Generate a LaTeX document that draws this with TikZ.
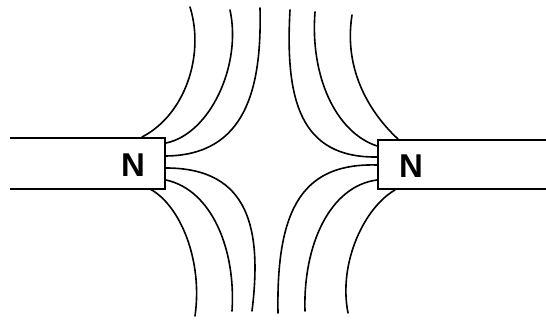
\documentclass[tikz,border=0pt]{standalone}
\usepackage{fontspec}
\setmainfont{Liberation Sans}
\begin{document}
\begin{tikzpicture}[x=1pt,y=-1pt,
  magnet/.style={line width=2.4pt,line join=miter},
  fieldline/.style={line width=1.6pt,line cap=round},
  pole/.style={font=\bfseries\fontsize{33}{33}\selectfont,inner sep=0pt}]
\useasboundingbox (0,0) rectangle (546,323);
% magnets
\draw[magnet] (10,138) -- (165,138) -- (165,189) -- (10,189);
\draw[magnet] (546,140) -- (378,140) -- (378,189) -- (546,189);
\node[pole] (NL) at (133,165) {N};
\node[pole] (NR) at (411,166) {N};
% left field lines
\draw[fieldline] (142,137) .. controls (185,115) and (205,55) .. (190,7);
\draw[fieldline] (166,143) .. controls (210,134) and (242,65) .. (230,10);
\draw[fieldline] (166,156) .. controls (245,155) and (262,90) .. (260,8);
\draw[fieldline] (166,168) .. controls (250,168) and (262,230) .. (252,311);
\draw[fieldline] (166,180) .. controls (212,190) and (236,250) .. (232,311);
\draw[fieldline] (150,189) .. controls (180,205) and (203,260) .. (195,316);
% right field lines
\draw[fieldline] (377,157) .. controls (300,158) and (285,100) .. (290,10);
\draw[fieldline] (377,146) .. controls (335,132) and (310,75) .. (315,12);
\draw[fieldline] (398,139) .. controls (372,115) and (343,72) .. (352,15);
\draw[fieldline] (377,165) .. controls (305,163) and (276,205) .. (278,313);
\draw[fieldline] (377,180) .. controls (330,186) and (303,245) .. (305,311);
\draw[fieldline] (395,190) .. controls (365,207) and (338,262) .. (348,313);
\end{tikzpicture}
\end{document}
